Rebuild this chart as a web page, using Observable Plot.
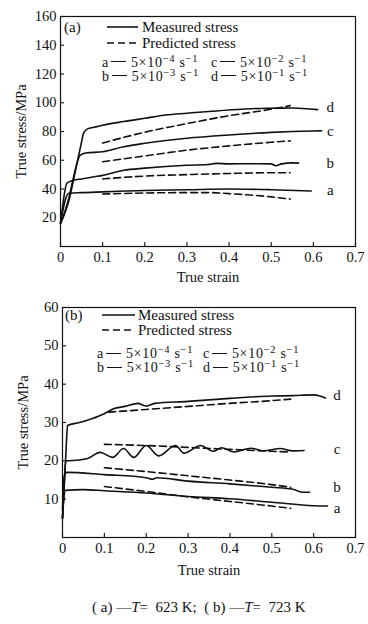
<!DOCTYPE html>
<html><head><meta charset="utf-8">
<script src="https://cdn.jsdelivr.net/npm/d3@7"></script>
<script src="https://cdn.jsdelivr.net/npm/@observablehq/plot@0.6"></script>
<style>
body{margin:0;background:#fff;}
#wrap{position:relative;width:368px;height:624px;font-family:"Liberation Serif","Times New Roman",serif;color:#111;overflow:hidden;}
.panel{position:absolute;left:0;}
.lg{position:absolute;white-space:nowrap;line-height:1;transform:translateY(-50%);}
.big{font-size:15px;}
.small{font-size:14px;letter-spacing:0.7px;line-height:1;}
.small sup{font-size:10.5px;vertical-align:0.45em;line-height:0;}
.dash{display:inline-block;width:15px;border-top:1.6px solid #111;vertical-align:0.3em;margin:0 5px 0 2px;}
.sw{position:absolute;}
#cap{position:absolute;top:598px;left:92px;font-size:15px;white-space:nowrap;line-height:1.2;}
</style></head>
<body><div id="wrap"></div>
<script>
// ---------- data ----------
const curveNames = ["a", "b", "c", "d"];
const xTicks = [0, 0.1, 0.2, 0.3, 0.4, 0.5, 0.6, 0.7];
const yTicksA = [20, 40, 60, 80, 100, 120, 140, 160];
const yTicksB = [10, 20, 30, 40, 50, 60];

// (a) T = 623 K, measured  [strain, stress]
const measA623 = [[0,16],[0.005,24],[0.012,33],[0.02,37],[0.05,37.5],[0.1,38],[0.2,39],[0.3,39.5],[0.4,40],[0.5,39.5],[0.595,38.6]];
const measB623 = [[0,17],[0.005,28],[0.01,38],[0.015,44],[0.03,46],[0.05,47],[0.08,48.5],[0.1,49.5],[0.15,53],[0.2,54.5],[0.3,56.5],[0.35,57],[0.37,57.8],[0.4,57.5],[0.45,57.6],[0.5,57.5],[0.51,56.2],[0.525,57.5],[0.55,58.2],[0.565,58]];
const measC623 = [[0,16],[0.01,24],[0.02,34],[0.03,47],[0.04,59],[0.047,63.6],[0.06,65],[0.1,65.9],[0.15,69.4],[0.2,71.8],[0.3,75.3],[0.4,77.6],[0.5,79.4],[0.6,80.4],[0.62,80.5]];
const measD623 = [[0,16],[0.01,23],[0.02,32],[0.03,45],[0.04,59],[0.048,70],[0.055,79],[0.065,82],[0.087,83.4],[0.1,84.3],[0.15,86.9],[0.2,89.2],[0.25,91.5],[0.3,92.7],[0.4,95],[0.49,96.2],[0.55,96.3],[0.61,95.2]];
// (a) T = 623 K, predicted
const predA623 = [[0.1,36.5],[0.2,37.2],[0.3,37.5],[0.35,37.5],[0.4,36.8],[0.45,35.8],[0.5,34.5],[0.545,33]];
const predB623 = [[0.1,47],[0.2,49],[0.3,50],[0.4,50.8],[0.5,51.3],[0.545,51.3]];
const predC623 = [[0.1,59],[0.2,63],[0.3,67],[0.4,70],[0.5,72.5],[0.545,73.5]];
const predD623 = [[0.1,72],[0.2,79.5],[0.3,85.5],[0.4,91],[0.5,95.5],[0.545,98]];
const labY623 = [39, 58, 80, 97];
const labX623 = 0.64;

// (b) T = 723 K, measured
const measA723 = [[0,5],[0.003,10],[0.006,12.3],[0.05,12.5],[0.1,12.2],[0.2,11.6],[0.3,10.7],[0.4,10.1],[0.5,9.2],[0.6,8.3],[0.633,8.2]];
const measB723 = [[0,7],[0.004,16],[0.01,17],[0.1,16.4],[0.2,15.6],[0.215,15.2],[0.225,15.6],[0.3,14.7],[0.4,14.0],[0.5,13.1],[0.55,12.6],[0.575,11.8],[0.59,11.8]];
const measC723 = [[0,5],[0.004,14],[0.008,20],[0.04,20.2],[0.06,20.6],[0.09,22.2],[0.12,20.9],[0.146,23.2],[0.17,20.9],[0.2,24],[0.23,21.3],[0.27,24],[0.29,22],[0.33,24],[0.36,22.5],[0.38,23.4],[0.41,22.3],[0.45,23.3],[0.48,22.6],[0.52,23.2],[0.55,22.6],[0.577,22.7]];
const measD723 = [[0,5],[0.005,15],[0.009,24],[0.012,29.2],[0.04,30],[0.07,31],[0.1,32.3],[0.122,33.6],[0.15,34.2],[0.18,35],[0.2,34.3],[0.22,35],[0.3,35.5],[0.4,36.3],[0.5,36.9],[0.55,37],[0.6,37.2],[0.615,36.9],[0.628,36.4]];
// (b) T = 723 K, predicted
const predA723 = [[0.1,13.3],[0.2,12],[0.3,10.6],[0.4,9.4],[0.5,8.2],[0.545,7.6]];
const predB723 = [[0.1,18.2],[0.2,17.2],[0.3,16.1],[0.4,15],[0.5,13.8],[0.545,13.1]];
const predC723 = [[0.1,24.3],[0.2,24],[0.3,23.5],[0.4,23],[0.5,22.5],[0.545,22.3]];
const predD723 = [[0.11,32.7],[0.2,33.4],[0.3,34.2],[0.4,35],[0.5,35.7],[0.545,36.1]];
const labY723 = [7.6, 13, 23, 37];
const labX723 = 0.656;

const rateLabels = ["5×10<sup>−4</sup> s<sup>−1</sup>", "5×10<sup>−3</sup> s<sup>−1</sup>", "5×10<sup>−2</sup> s<sup>−1</sup>", "5×10<sup>−1</sup> s<sup>−1</sup>"];

// ---------- drawing ----------
const FONT = '"Liberation Serif","Times New Roman",serif';
const wrap = document.getElementById("wrap");

function toRows(sets) {
  return sets.flatMap((pts, i) => pts.map(([s, v]) => ({strain: s, stress: v, series: curveNames[i]})));
}

function panel(cfg) {
  const W = 368, mr = 13;
  const plotW = W - cfg.marginLeft - mr;
  const plotH = cfg.height - cfg.marginTop - cfg.marginBottom;
  const labels = curveNames.map((n, i) => ({name: n, x: cfg.labX, y: cfg.labY[i]}));
  return Plot.plot({
    width: W, height: cfg.height,
    marginLeft: cfg.marginLeft, marginRight: mr, marginTop: cfg.marginTop, marginBottom: cfg.marginBottom,
    style: {fontFamily: FONT, fontSize: "14.5px", color: "#111", background: "transparent"},
    x: {domain: [0, 0.7]},
    y: {domain: [0, cfg.yMax]},
    marks: [
      Plot.frame({stroke: "#111", strokeWidth: 1.2}),
      Plot.tickX(xTicks, {x: d => d, insetTop: plotH - 4, stroke: "#111", strokeWidth: 1.1}),
      Plot.tickY(cfg.yTicks, {y: d => d, insetRight: plotW - 4, stroke: "#111", strokeWidth: 1.1}),
      Plot.axisX(xTicks, {tickSize: 0, tickPadding: 5, tickFormat: d => d === 0 ? "0" : d.toFixed(1),
        label: "True strain", labelAnchor: "center", labelOffset: cfg.xLabelOffset, labelArrow: "none"}),
      Plot.axisY(cfg.yTicks, {tickSize: 0, tickPadding: 4,
        label: "True stress/MPa", labelAnchor: "center", labelOffset: 45, labelArrow: "none"}),
      Plot.line(toRows(cfg.measured), {x: "strain", y: "stress", z: "series", stroke: "#111", strokeWidth: 1.6, curve: "monotone-x"}),
      Plot.line(toRows(cfg.predicted), {x: "strain", y: "stress", z: "series", stroke: "#111", strokeWidth: 1.6, strokeDasharray: "7,4", curve: "monotone-x"}),
      Plot.text(labels, {x: "x", y: "y", text: "name", fontSize: 15, fill: "#111"})
    ]
  });
}

function place(el, top) {
  el.classList.add("panel");
  el.style.top = top + "px";
  wrap.appendChild(el);
}

place(panel({height: 292, marginLeft: 60, marginTop: 16, marginBottom: 46, yMax: 160, yTicks: yTicksA, xLabelOffset: 35,
  measured: [measA623, measB623, measC623, measD623], predicted: [predA623, predB623, predC623, predD623],
  labX: labX623, labY: labY623}), 0);
place(panel({height: 290, marginLeft: 62, marginTop: 15, marginBottom: 45, yMax: 60, yTicks: yTicksB, xLabelOffset: 37,
  measured: [measA723, measB723, measC723, measD723], predicted: [predA723, predB723, predC723, predD723],
  labX: labX723, labY: labY723}), 292);

function addHTML(html, cls, left, top) {
  const d = document.createElement("div");
  d.className = "lg " + cls;
  d.style.left = left + "px";
  d.style.top = top + "px";
  d.innerHTML = html;
  wrap.appendChild(d);
}
function addSwatch(x1, x2, y, dashed) {
  const s = document.createElementNS("http://www.w3.org/2000/svg", "svg");
  s.setAttribute("class", "sw");
  s.setAttribute("width", x2 - x1);
  s.setAttribute("height", 4);
  s.style.left = x1 + "px";
  s.style.top = (y - 2) + "px";
  const l = document.createElementNS("http://www.w3.org/2000/svg", "line");
  l.setAttribute("x1", 0); l.setAttribute("x2", x2 - x1);
  l.setAttribute("y1", 2); l.setAttribute("y2", 2);
  l.setAttribute("stroke", "#111"); l.setAttribute("stroke-width", 1.6);
  if (dashed) l.setAttribute("stroke-dasharray", "7,4");
  s.appendChild(l);
  wrap.appendChild(s);
}
function legend(tag, o) {
  addHTML(tag, "big", o.tagX, o.y1);
  addSwatch(o.lx1, o.lx2, o.y1, false);
  addHTML("Measured stress", "big", o.tx, o.y1);
  addSwatch(o.lx1, o.lx2, o.y2, true);
  addHTML("Predicted stress", "big", o.tx, o.y2);
  const rows = [[0, o.ax, o.r1], [1, o.ax, o.r2], [2, o.cx, o.r1], [3, o.cx, o.r2]];
  for (const [i, x, y] of rows) addHTML(curveNames[i] + '<span class="dash"></span>' + rateLabels[i], "small", x, y);
}
legend("(a)", {tagX: 64, y1: 27, y2: 43, lx1: 107, lx2: 138, tx: 142, ax: 102, cx: 211, r1: 62.5, r2: 76.5});
legend("(b)", {tagX: 65, y1: 315, y2: 330, lx1: 102, lx2: 135, tx: 138, ax: 97, cx: 203, r1: 354, r2: 368});

const cap = document.createElement("div");
cap.id = "cap";
cap.innerHTML = "( a) —<i>T</i>=&nbsp; 623 K;&nbsp; ( b) —<i>T</i>=&nbsp; 723 K";
wrap.appendChild(cap);
</script></body></html>
